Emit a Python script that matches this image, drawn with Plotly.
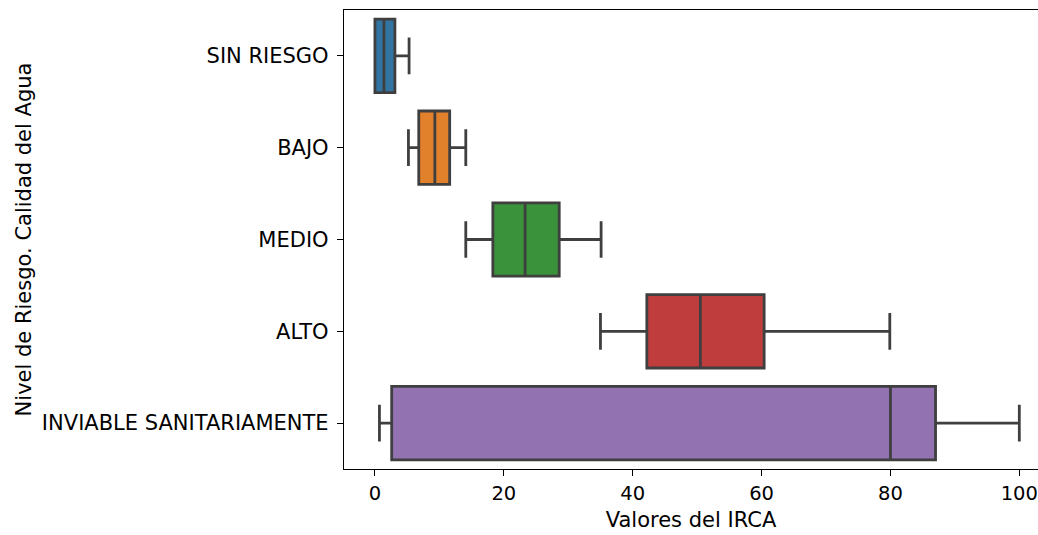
import plotly.graph_objects as go

categories = ["SIN RIESGO", "BAJO", "MEDIO", "ALTO", "INVIABLE SANITARIAMENTE"]
lower_whisker = [0.0, 5.2, 14.1, 35.0, 0.7]
q1_values = [0.0, 6.8, 18.3, 42.2, 2.6]
median_values = [1.4, 9.3, 23.3, 50.5, 80.0]
q3_values = [3.1, 11.6, 28.6, 60.4, 87.0]
upper_whisker = [5.3, 14.1, 35.1, 79.9, 100.0]
x_ticks = [0, 20, 40, 60, 80, 100]

colors = ["#3274a1", "#e1812c", "#3a923a", "#c03d3e", "#9372b2"]
edge = "#3f3f3f"
FONT = "DejaVu Sans"
FS = 21

fig = go.Figure()
for i, cat in enumerate(categories):
    fig.add_trace(go.Box(
        y=[cat],
        q1=[q1_values[i]],
        median=[median_values[i]],
        q3=[q3_values[i]],
        lowerfence=[lower_whisker[i]],
        upperfence=[upper_whisker[i]],
        orientation="h",
        width=0.8,
        whiskerwidth=0.5,
        fillcolor=colors[i],
        line=dict(color=edge, width=2.8),
        boxpoints=False,
        showlegend=False,
        name=cat,
    ))

fig.update_layout(
    width=1038,
    height=535,
    margin=dict(l=344, r=0, t=10, b=66, autoexpand=False),
    paper_bgcolor="white",
    plot_bgcolor="white",
    boxmode="overlay",
    font=dict(family=FONT, size=FS, color="#000000"),
    xaxis=dict(
        range=[-4.8, 102.9],
        tickvals=x_ticks,
        ticks="outside",
        ticklen=6,
        tickwidth=1.3,
        tickcolor="#000000",
        showline=True,
        linecolor="#000000",
        linewidth=1.3,
        mirror=True,
        showgrid=False,
        zeroline=False,
        automargin=False,
        ticklabeloverflow="allow",
        tickfont=dict(family=FONT, size=19.5),
        title=dict(text="Valores del IRCA", font=dict(family=FONT, size=FS), standoff=8),
    ),
    yaxis=dict(
        type="category",
        categoryorder="array",
        categoryarray=categories,
        range=[4.5, -0.5],
        ticks="outside",
        ticklen=6,
        tickwidth=1.3,
        tickcolor="#000000",
        showline=True,
        linecolor="#000000",
        linewidth=1.3,
        mirror=False,
        showgrid=False,
        zeroline=False,
        automargin=False,
        ticklabelstandoff=4,
        tickfont=dict(family=FONT, size=FS),
        title=dict(text="Nivel de Riesgo. Calidad del Agua", font=dict(family=FONT, size=FS), standoff=4),
    ),
)

# remove the page's default body margin so the figure fills the window exactly
fig.write_html(
    "out.html",
    config={"displayModeBar": False},
    post_script="document.body.style.margin='0';document.body.style.overflow='hidden';",
)
